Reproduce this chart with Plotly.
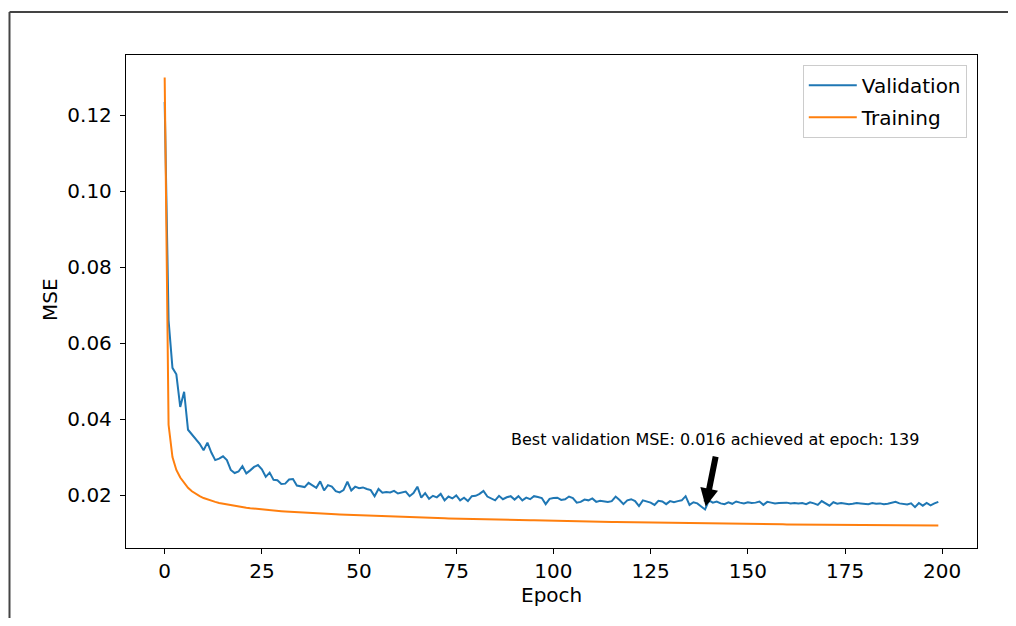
import plotly.graph_objects as go

epochs = list(range(200))

validation_mse = [
    0.1235, 0.0660, 0.0535, 0.0518, 0.0432, 0.0472, 0.0372, 0.0360, 0.0347, 0.0335,
    0.0318, 0.0338, 0.0312, 0.0292, 0.0296, 0.0302, 0.0292, 0.0266, 0.0258, 0.0262,
    0.0276, 0.0257, 0.0265, 0.0274, 0.0279, 0.0268, 0.0248, 0.0259, 0.0240, 0.0239,
    0.0229, 0.0230, 0.0241, 0.0242, 0.0225, 0.0222, 0.0221, 0.0232, 0.0226, 0.0219,
    0.0236, 0.0212, 0.0226, 0.0222, 0.0210, 0.0207, 0.0213, 0.0235, 0.0212, 0.0222,
    0.0218, 0.0220, 0.0216, 0.0213, 0.0197, 0.0216, 0.0206, 0.0208, 0.0207, 0.0211,
    0.0204, 0.0206, 0.0209, 0.0197, 0.0205, 0.0222, 0.0193, 0.0205, 0.0190, 0.0198,
    0.0194, 0.0203, 0.0186, 0.0196, 0.0191, 0.0199, 0.0186, 0.0193, 0.0184, 0.0197,
    0.0198, 0.0203, 0.0211, 0.0196, 0.0190, 0.0186, 0.0198, 0.0189, 0.0194, 0.0197,
    0.0188, 0.0197, 0.0186, 0.0193, 0.0189, 0.0197, 0.0195, 0.0192, 0.0176, 0.0190,
    0.0192, 0.0193, 0.0187, 0.0189, 0.0196, 0.0192, 0.0180, 0.0182, 0.0188, 0.0186,
    0.0191, 0.0182, 0.0185, 0.0183, 0.0182, 0.0184, 0.0196, 0.0187, 0.0176, 0.0186,
    0.0189, 0.0184, 0.0171, 0.0186, 0.0183, 0.0180, 0.0174, 0.0185, 0.0183, 0.0176,
    0.0184, 0.0181, 0.0184, 0.0186, 0.0197, 0.0174, 0.0181, 0.0178, 0.0170, 0.0162,
    0.0186, 0.0180, 0.0183, 0.0178, 0.0176, 0.0181, 0.0177, 0.0183, 0.0180, 0.0178,
    0.0181, 0.0179, 0.0180, 0.0183, 0.0174, 0.0182, 0.0180, 0.0178, 0.0179, 0.0180,
    0.0180, 0.0178, 0.0179, 0.0178, 0.0179, 0.0176, 0.0181, 0.0178, 0.0174, 0.0184,
    0.0178, 0.0172, 0.0181, 0.0177, 0.0179, 0.0178, 0.0176, 0.0177, 0.0179, 0.0178,
    0.0177, 0.0176, 0.0179, 0.0177, 0.0178, 0.0176, 0.0177, 0.0180, 0.0182, 0.0178,
    0.0177, 0.0175, 0.0178, 0.0168, 0.0179, 0.0172, 0.0179, 0.0173, 0.0178, 0.0182,
]

training_mse = [
    0.13000, 0.03850, 0.03000, 0.02660, 0.02460, 0.02310, 0.02190, 0.02100, 0.02030, 0.01970,
    0.01920, 0.01880, 0.01850, 0.01820, 0.01790, 0.01770, 0.01750, 0.01730, 0.01710, 0.01690,
    0.01680, 0.01665, 0.01652, 0.01640, 0.01630, 0.01620, 0.01610, 0.01600, 0.01591, 0.01582,
    0.01574, 0.01566, 0.01559, 0.01552, 0.01545, 0.01539, 0.01533, 0.01527, 0.01521, 0.01516,
    0.01511, 0.01506, 0.01501, 0.01496, 0.01492, 0.01487, 0.01483, 0.01478, 0.01474, 0.01469,
    0.01460, 0.01456, 0.01452, 0.01448, 0.01444, 0.01440, 0.01436, 0.01433, 0.01429, 0.01426,
    0.01422, 0.01419, 0.01416, 0.01412, 0.01409, 0.01406, 0.01403, 0.01400, 0.01397, 0.01394,
    0.01391, 0.01388, 0.01386, 0.01383, 0.01380, 0.01378, 0.01375, 0.01373, 0.01370, 0.01368,
    0.01365, 0.01363, 0.01361, 0.01358, 0.01356, 0.01354, 0.01352, 0.01350, 0.01348, 0.01346,
    0.01344, 0.01342, 0.01340, 0.01338, 0.01336, 0.01334, 0.01331, 0.01328, 0.01325, 0.01322,
    0.01320, 0.01318, 0.01316, 0.01314, 0.01312, 0.01310, 0.01308, 0.01306, 0.01304, 0.01302,
    0.01300, 0.01298, 0.01296, 0.01294, 0.01292, 0.01290, 0.01288, 0.01286, 0.01285, 0.01283,
    0.01281, 0.01279, 0.01278, 0.01276, 0.01274, 0.01273, 0.01271, 0.01270, 0.01268, 0.01266,
    0.01265, 0.01263, 0.01262, 0.01260, 0.01259, 0.01257, 0.01256, 0.01255, 0.01253, 0.01252,
    0.01251, 0.01249, 0.01248, 0.01247, 0.01245, 0.01244, 0.01243, 0.01242, 0.01240, 0.01239,
    0.01238, 0.01237, 0.01236, 0.01235, 0.01233, 0.01232, 0.01231, 0.01230, 0.01229, 0.01228,
    0.01227, 0.01226, 0.01225, 0.01224, 0.01223, 0.01222, 0.01221, 0.01220, 0.01219, 0.01218,
    0.01217, 0.01216, 0.01215, 0.01214, 0.01214, 0.01213, 0.01212, 0.01211, 0.01210, 0.01209,
    0.01209, 0.01208, 0.01207, 0.01206, 0.01205, 0.01205, 0.01204, 0.01203, 0.01202, 0.01202,
    0.01201, 0.01200, 0.01200, 0.01199, 0.01198, 0.01198, 0.01197, 0.01197, 0.01196, 0.01196,
]

x_ticks = [0, 25, 50, 75, 100, 125, 150, 175, 200]
y_ticks = [0.02, 0.04, 0.06, 0.08, 0.10, 0.12]
y_tick_labels = ["0.02", "0.04", "0.06", "0.08", "0.10", "0.12"]

best_epoch = min(range(len(validation_mse)), key=lambda i: validation_mse[i])
best_value = validation_mse[best_epoch]
annotation_text = f"Best validation MSE: {round(best_value, 3):.3f} achieved at epoch: {best_epoch}"

FONT = "DejaVu Sans"

fig = go.Figure()
fig.add_trace(go.Scatter(x=epochs, y=validation_mse, mode="lines", name="Validation",
                         legendgroup="v", line=dict(color="#1f77b4", width=2)))
fig.add_trace(go.Scatter(x=epochs, y=training_mse, mode="lines", name="Training",
                         legendgroup="t", line=dict(color="#ff7f0e", width=2)))

axis_common = dict(showline=True, mirror=True, linecolor="black", linewidth=1.3,
                   ticks="outside", ticklen=5, tickwidth=1.3, tickcolor="black",
                   showgrid=False, zeroline=False,
                   tickfont=dict(family=FONT, size=20, color="black"))

fig.update_xaxes(range=[-9.95, 208.95], tickvals=x_ticks, **axis_common)
fig.update_yaxes(range=[0.00605, 0.1359], tickvals=y_ticks, ticktext=y_tick_labels,
                 ticklabelstandoff=4, **axis_common)

# text of the annotation
fig.add_annotation(x=141.6, y=0.0347, xref="x", yref="y", text=annotation_text,
                   showarrow=False, font=dict(family=FONT, size=16, color="black"))
# arrow
fig.add_annotation(x=best_epoch, y=best_value, xref="x", yref="y",
                   ax=141.8, ay=0.0305, axref="x", ayref="y",
                   text="", font=dict(size=1),
                   showarrow=True, arrowhead=2, arrowsize=0.6, arrowwidth=6,
                   arrowcolor="black", standoff=3)

# axis titles
fig.add_annotation(x=-0.0893, y=0.503, xref="paper", yref="paper", text="MSE",
                   textangle=-90, showarrow=False, xanchor="center", yanchor="middle",
                   font=dict(family=FONT, size=20, color="black"))
fig.add_annotation(x=0.5, y=-0.0953, xref="paper", yref="paper", text="Epoch",
                   showarrow=False, xanchor="center", yanchor="middle",
                   font=dict(family=FONT, size=20, color="black"))

# outer figure border (top and left lines)
fig.add_shape(type="line", xref="paper", yref="paper", x0=-0.1369, y0=1.0872, x1=1.1, y1=1.0872,
              line=dict(color="#444444", width=2))
fig.add_shape(type="line", xref="paper", yref="paper", x0=-0.1369, y0=1.0872, x1=-0.1369, y1=-0.2,
              line=dict(color="#444444", width=2))

fig.update_layout(
    width=1000, height=610,
    margin=dict(l=118, r=31, t=47, b=70, autoexpand=False),
    paper_bgcolor="white", plot_bgcolor="white",
    font=dict(family=FONT, size=20, color="black"),
    showlegend=True,
    legend=dict(x=0.988, y=0.98, xanchor="right", yanchor="top",
                bgcolor="white", bordercolor="#cccccc", borderwidth=1,
                itemwidth=48, tracegroupgap=3,
                font=dict(family=FONT, size=20, color="black")),
)

fig.write_html("out.html")
